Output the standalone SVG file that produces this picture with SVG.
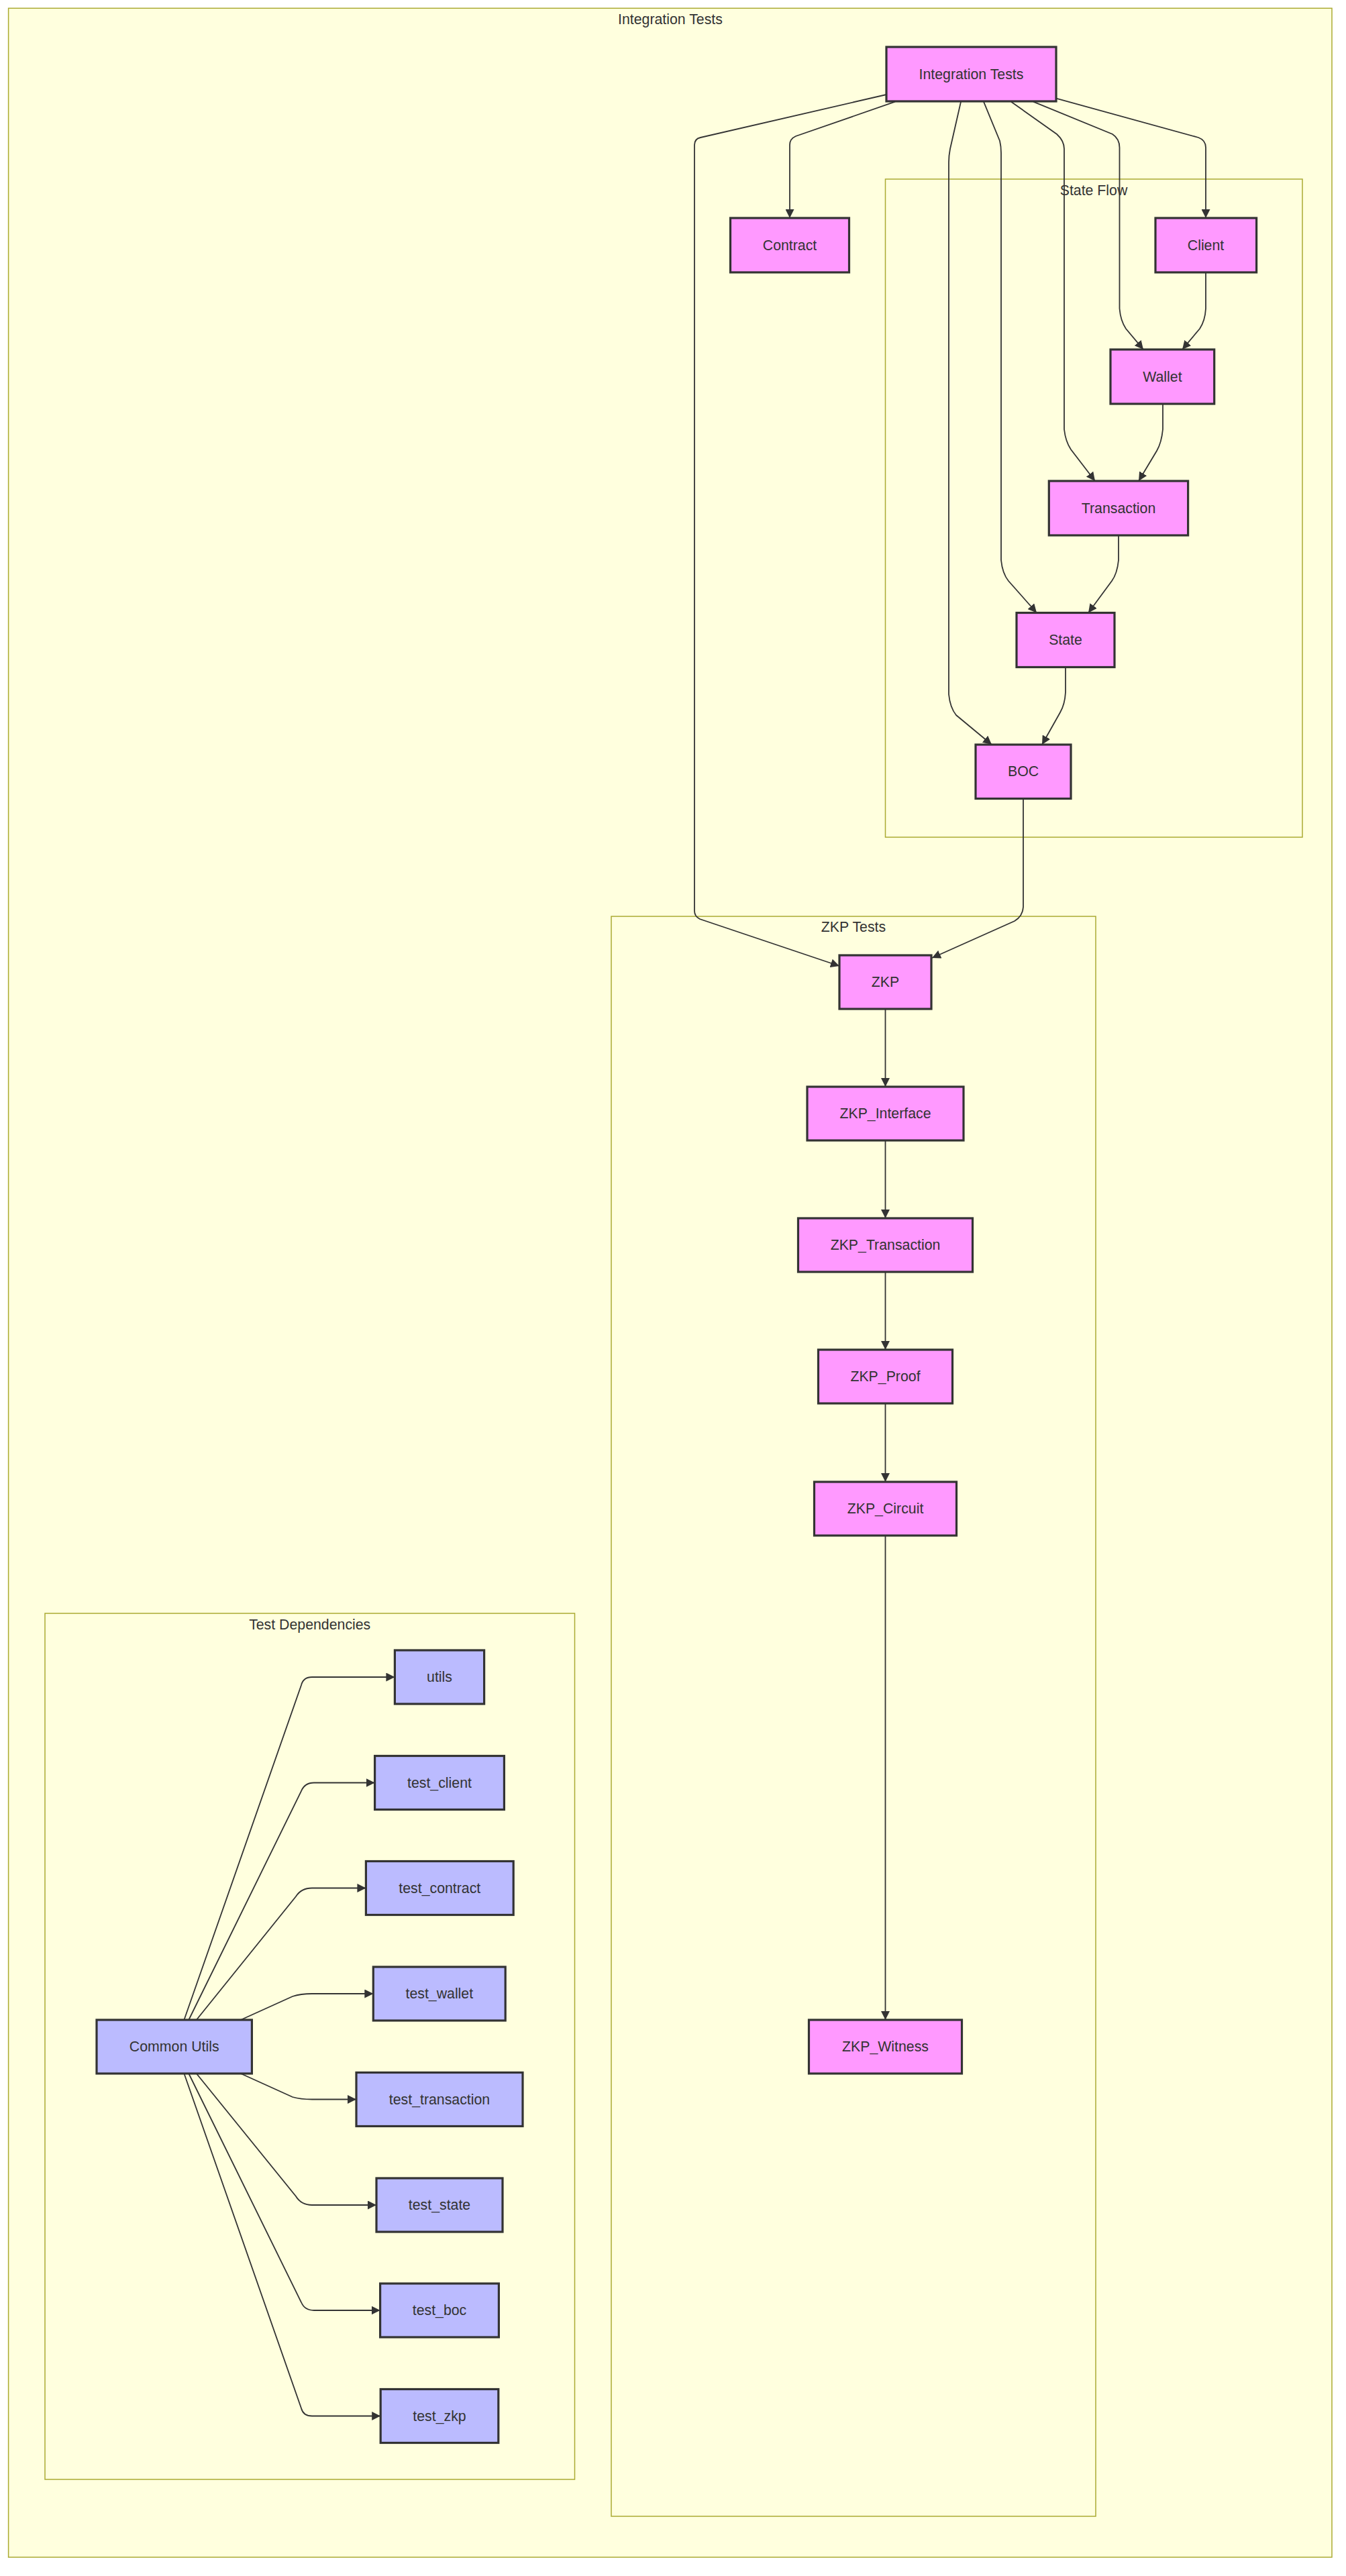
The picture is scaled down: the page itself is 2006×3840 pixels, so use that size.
<svg xmlns="http://www.w3.org/2000/svg" width="2006" height="3840" viewBox="0 0 2006 3840">
<style>
.cluster{fill:#ffffde;stroke:#aaaa33;stroke-width:1.5}
.ctitle{font-family:"Liberation Sans",Arial,sans-serif;font-size:21.3px;fill:#333;text-anchor:middle;dominant-baseline:central}
.pink{fill:#ff99ff;stroke:#333;stroke-width:3.2}
.blue{fill:#bbbbff;stroke:#333;stroke-width:3.2}
.lbl{font-family:"Liberation Sans",Arial,sans-serif;font-size:21.3px;fill:#333;text-anchor:middle;dominant-baseline:central}
.edge{fill:none;stroke:#333;stroke-width:1.8;marker-end:url(#arrow)}
</style>
<defs>
<marker id="arrow" viewBox="0 0 10 10" refX="10" refY="5" markerWidth="13" markerHeight="13" markerUnits="userSpaceOnUse" orient="auto">
<path d="M0,0 L10,5 L0,10 z" fill="#333"/>
</marker>
</defs>
<rect width="2006" height="3840" fill="#ffffff"/>
<g id="clusters">
<g id="cluster-integration"><rect class="cluster" x="12.6" y="12.3" width="1972.4" height="3799.7"/><text class="ctitle" x="999" y="29">Integration Tests</text></g>
<g id="cluster-stateflow"><rect class="cluster" x="1319.5" y="267" width="621.5" height="981"/><text class="ctitle" x="1630" y="284">State Flow</text></g>
<g id="cluster-zkp"><rect class="cluster" x="911" y="1366" width="722" height="2385"/><text class="ctitle" x="1272" y="1382">ZKP Tests</text></g>
<g id="cluster-deps"><rect class="cluster" x="67" y="2405" width="789.5" height="1291"/><text class="ctitle" x="461.7" y="2421.5">Test Dependencies</text></g>
</g>
<g id="connectors">
<path class="edge" d="M1321,141 L1044,205 Q1035,207 1035,216 L1035,1358 Q1035,1366 1043,1370 L1251,1440"/>
<path class="edge" d="M1334,151.7 L1186,203 Q1177,207 1177,216 L1177,325"/>
<path class="edge" d="M1574,146.7 L1786,205 Q1797,209 1797,220 L1797,325"/>
<path class="edge" d="M1540,151.7 L1658,200 Q1668.5,207 1668.5,220 L1668.5,460 Q1670,478 1678,490 L1704,521"/>
<path class="edge" d="M1797,406 L1797,460 Q1796,478 1788,490 L1762,521"/>
<path class="edge" d="M1507,151.7 L1575,200 Q1586,210 1586,222 L1586,640 Q1588,658 1596,670 L1632,717"/>
<path class="edge" d="M1733,602 L1733,640 Q1731,660 1724,672 L1697,717"/>
<path class="edge" d="M1466,151.7 L1490,210 Q1492,218 1492,228 L1492,835 Q1494,855 1503,866 L1545,913.5"/>
<path class="edge" d="M1667,798 L1667,835 Q1665,855 1657,866 L1622,913.5"/>
<path class="edge" d="M1432,151.7 L1416,222 Q1414,232 1414,242 L1414,1035 Q1416,1055 1425,1066 L1478,1110"/>
<path class="edge" d="M1588,994 L1588,1032 Q1587,1050 1580,1062 L1553,1110"/>
<path class="edge" d="M1525,1190.4 L1525,1352 Q1524,1366 1512,1373 L1389,1428"/>
<path class="edge" d="M1319.5,1504 L1319.5,1620"/>
<path class="edge" d="M1319.5,1700 L1319.5,1816"/>
<path class="edge" d="M1319.5,1896 L1319.5,2012"/>
<path class="edge" d="M1319.5,2092 L1319.5,2209"/>
<path class="edge" d="M1319.5,2289 L1319.5,3011"/>
<path class="edge" d="M274.4,3011 L449,2512 Q452,2500 465,2500 L588.4,2500"/>
<path class="edge" d="M281.3,3011 L449,2670 Q454,2657.5 468,2657.5 L558.6,2657.5"/>
<path class="edge" d="M292.8,3011 L441,2827 Q449,2814.5 465,2814.5 L545.4,2814.5"/>
<path class="edge" d="M358.8,3011 L436,2976 Q448,2972 465,2972 L556.3,2972"/>
<path class="edge" d="M358.8,3091 L436,3126 Q448,3129.5 465,3129.5 L531,3129.5"/>
<path class="edge" d="M292.8,3091 L441,3274 Q449,3287 465,3287 L561,3287"/>
<path class="edge" d="M281.3,3091 L449,3432 Q454,3444 468,3444 L566.6,3444"/>
<path class="edge" d="M274.4,3091 L449,3590 Q452,3601.5 465,3601.5 L567.2,3601.5"/>
</g>
<g id="node-integration"><rect class="pink" x="1321" y="70" width="253" height="81"/><text class="lbl" x="1447.5" y="110.5">Integration Tests</text></g>
<g id="node-contract"><rect class="pink" x="1088.5" y="325" width="177" height="81"/><text class="lbl" x="1177" y="365.5">Contract</text></g>
<g id="node-client"><rect class="pink" x="1722" y="325" width="150.6" height="81"/><text class="lbl" x="1797" y="365.5">Client</text></g>
<g id="node-wallet"><rect class="pink" x="1655" y="521" width="154.7" height="81"/><text class="lbl" x="1732.4" y="561.5">Wallet</text></g>
<g id="node-transaction"><rect class="pink" x="1563.3" y="717" width="207.3" height="81"/><text class="lbl" x="1667" y="757.5">Transaction</text></g>
<g id="node-state"><rect class="pink" x="1515" y="913.5" width="146" height="81"/><text class="lbl" x="1588" y="954">State</text></g>
<g id="node-boc"><rect class="pink" x="1454" y="1110" width="142" height="80.5"/><text class="lbl" x="1525" y="1150.3">BOC</text></g>
<g id="node-zkp"><rect class="pink" x="1251" y="1424" width="137" height="80"/><text class="lbl" x="1319.5" y="1464">ZKP</text></g>
<g id="node-zkp-interface"><rect class="pink" x="1203" y="1620" width="233" height="80"/><text class="lbl" x="1319.5" y="1660">ZKP_Interface</text></g>
<g id="node-zkp-transaction"><rect class="pink" x="1189.5" y="1816" width="260" height="80"/><text class="lbl" x="1319.5" y="1856">ZKP_Transaction</text></g>
<g id="node-zkp-proof"><rect class="pink" x="1219.5" y="2012" width="200" height="80"/><text class="lbl" x="1319.5" y="2052">ZKP_Proof</text></g>
<g id="node-zkp-circuit"><rect class="pink" x="1213.5" y="2209" width="212" height="80"/><text class="lbl" x="1319.5" y="2249">ZKP_Circuit</text></g>
<g id="node-zkp-witness"><rect class="pink" x="1205.5" y="3011" width="228" height="80"/><text class="lbl" x="1319.5" y="3051">ZKP_Witness</text></g>
<g id="node-common-utils"><rect class="blue" x="144" y="3011" width="231.4" height="80"/><text class="lbl" x="259.7" y="3051">Common Utils</text></g>
<g id="node-utils"><rect class="blue" x="588.4" y="2460" width="133.2" height="80"/><text class="lbl" x="655" y="2500">utils</text></g>
<g id="node-test-client"><rect class="blue" x="558.6" y="2617.5" width="192.8" height="80"/><text class="lbl" x="655" y="2657.5">test_client</text></g>
<g id="node-test-contract"><rect class="blue" x="545.4" y="2774.5" width="219.8" height="80"/><text class="lbl" x="655.3" y="2814.5">test_contract</text></g>
<g id="node-test-wallet"><rect class="blue" x="556.3" y="2932" width="196.9" height="80"/><text class="lbl" x="654.8" y="2972">test_wallet</text></g>
<g id="node-test-transaction"><rect class="blue" x="531" y="3089.5" width="248" height="80"/><text class="lbl" x="655" y="3129.5">test_transaction</text></g>
<g id="node-test-state"><rect class="blue" x="561" y="3247" width="188" height="80"/><text class="lbl" x="655" y="3287">test_state</text></g>
<g id="node-test-boc"><rect class="blue" x="566.6" y="3404" width="176.8" height="80"/><text class="lbl" x="655" y="3444">test_boc</text></g>
<g id="node-test-zkp"><rect class="blue" x="567.2" y="3561.5" width="175.6" height="80"/><text class="lbl" x="655" y="3601.5">test_zkp</text></g>
</svg>
